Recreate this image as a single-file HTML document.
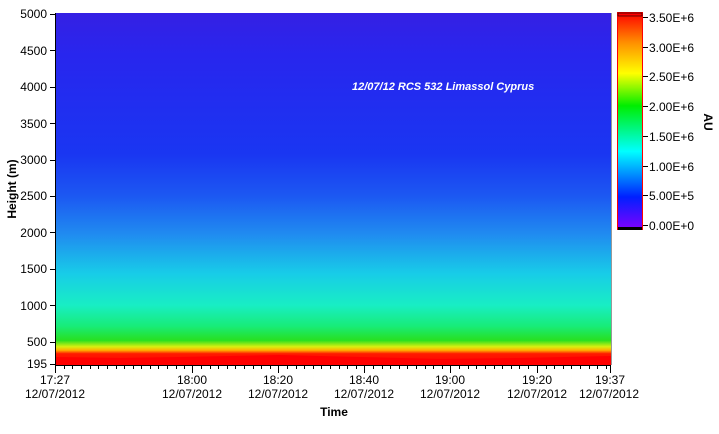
<!DOCTYPE html>
<html><head><style>
body{margin:0;background:#fff;width:719px;height:429px;overflow:hidden;font-family:"Liberation Sans",sans-serif;}
</style></head><body>
<svg width="719" height="429" xmlns="http://www.w3.org/2000/svg" font-family="Liberation Sans, sans-serif">
<defs>
<linearGradient id="pg" x1="0" y1="13" x2="0" y2="365" gradientUnits="userSpaceOnUse">
<stop offset="0" stop-color="#3520e4"/>
<stop offset="0.12" stop-color="#2826ee"/>
<stop offset="0.40" stop-color="#1a36f2"/>
<stop offset="0.52" stop-color="#1c58f2"/>
<stop offset="0.63" stop-color="#208cf0"/>
<stop offset="0.74" stop-color="#18cce8"/>
<stop offset="0.83" stop-color="#18eec4"/>
<stop offset="0.89" stop-color="#18ec78"/>
<stop offset="0.93" stop-color="#28e020"/>
<stop offset="0.948" stop-color="#d8f010"/>
<stop offset="0.958" stop-color="#ffb000"/>
<stop offset="0.968" stop-color="#ff1a00"/>
<stop offset="1" stop-color="#ff0000"/>
</linearGradient>
<linearGradient id="cb" x1="0" y1="0" x2="0" y2="1">
<stop offset="0" stop-color="#ff0000"/>
<stop offset="0.14" stop-color="#ff9000"/>
<stop offset="0.28" stop-color="#ffff00"/>
<stop offset="0.43" stop-color="#00ee00"/>
<stop offset="0.64" stop-color="#00ffff"/>
<stop offset="0.85" stop-color="#0020ff"/>
<stop offset="1" stop-color="#8000ff"/>
</linearGradient>
</defs>
<rect x="55" y="13" width="556" height="352" fill="url(#pg)"/>
<path d="M55,357 L120,358 L180,357 L280,355 L360,357 L440,359 L520,358 L611,356 L611,365 L55,365Z" fill="#ff0000"/>
<line x1="55.5" y1="13" x2="55.5" y2="366" stroke="#000"/>
<line x1="55" y1="365.5" x2="611" y2="365.5" stroke="#000"/>
<line x1="611.5" y1="13" x2="611.5" y2="365" stroke="#999"/>
<g font-size="12" fill="#000" text-anchor="end">
<text x="47" y="18">5000</text><text x="47" y="55">4500</text><text x="47" y="91">4000</text>
<text x="47" y="128">3500</text><text x="47" y="164">3000</text><text x="47" y="200">2500</text>
<text x="47" y="237">2000</text><text x="47" y="273">1500</text><text x="47" y="310">1000</text>
<text x="47" y="346">500</text><text x="47" y="368">195</text>
</g>
<g stroke="#000">
<line x1="50" y1="14.5" x2="55" y2="14.5"/><line x1="50" y1="50.5" x2="55" y2="50.5"/><line x1="50" y1="87.5" x2="55" y2="87.5"/>
<line x1="50" y1="123.5" x2="55" y2="123.5"/><line x1="50" y1="160.5" x2="55" y2="160.5"/><line x1="50" y1="196.5" x2="55" y2="196.5"/>
<line x1="50" y1="232.5" x2="55" y2="232.5"/><line x1="50" y1="269.5" x2="55" y2="269.5"/><line x1="50" y1="305.5" x2="55" y2="305.5"/>
<line x1="50" y1="342.5" x2="55" y2="342.5"/><line x1="50" y1="364.5" x2="55" y2="364.5"/>
</g>
<g stroke="#000">
<line x1="55.5" y1="366" x2="55.5" y2="373"/><line x1="192.5" y1="366" x2="192.5" y2="373"/>
<line x1="278.5" y1="366" x2="278.5" y2="373"/><line x1="364.5" y1="366" x2="364.5" y2="373"/>
<line x1="450.5" y1="366" x2="450.5" y2="373"/><line x1="537.5" y1="366" x2="537.5" y2="373"/>
<line x1="610.5" y1="366" x2="610.5" y2="373"/>
</g>
<g stroke="#000" stroke-width="1">
<path d="M64.5,366v3M72.5,366v3M81.5,366v3M90.5,366v3M98.5,366v3M107.5,366v3M116.5,366v3M124.5,366v3M133.5,366v3M141.5,366v3M150.5,366v3M158.5,366v3M167.5,366v3M176.5,366v3M184.5,366v3M201.5,366v3M210.5,366v3M218.5,366v3M227.5,366v3M235.5,366v3M244.5,366v3M253.5,366v3M261.5,366v3M270.5,366v3M287.5,366v3M296.5,366v3M304.5,366v3M313.5,366v3M321.5,366v3M330.5,366v3M339.5,366v3M347.5,366v3M356.5,366v3M373.5,366v3M382.5,366v3M390.5,366v3M399.5,366v3M407.5,366v3M416.5,366v3M425.5,366v3M433.5,366v3M442.5,366v3M459.5,366v3M468.5,366v3M476.5,366v3M485.5,366v3M494.5,366v3M502.5,366v3M511.5,366v3M519.5,366v3M528.5,366v3M546.5,366v3M554.5,366v3M563.5,366v3M571.5,366v3M580.5,366v3M589.5,366v3M597.5,366v3M606.5,366v3"/>
</g>
<g font-size="12" fill="#000" text-anchor="middle">
<text x="55" y="384">17:27</text><text x="55" y="398">12/07/2012</text>
<text x="192" y="384">18:00</text><text x="192" y="398">12/07/2012</text>
<text x="278" y="384">18:20</text><text x="278" y="398">12/07/2012</text>
<text x="364" y="384">18:40</text><text x="364" y="398">12/07/2012</text>
<text x="450" y="384">19:00</text><text x="450" y="398">12/07/2012</text>
<text x="537" y="384">19:20</text><text x="537" y="398">12/07/2012</text>
<text x="610" y="384">19:37</text><text x="609" y="398">12/07/2012</text>
</g>
<text x="334" y="416" font-size="12" font-weight="bold" text-anchor="middle">Time</text>
<text transform="translate(16,189) rotate(-90)" font-size="12" font-weight="bold" text-anchor="middle">Height (m)</text>
<text x="352" y="90" font-size="11" font-style="italic" font-weight="bold" fill="#fff">12/07/12 RCS 532 Limassol Cyprus</text>
<rect x="617.5" y="12.5" width="25" height="217" fill="url(#cb)" stroke="#f00"/>
<rect x="618" y="13" width="24" height="3" fill="#f00" stroke="#000" stroke-width="0.6"/>
<rect x="618" y="227" width="24" height="3" fill="#000"/>
<g stroke="#000"><path d="M643,17.5h5M643,47.5h5M643,76.5h5M643,106.5h5M643,136.5h5M643,166.5h5M643,195.5h5M643,225.5h5"/></g>
<g font-size="12" fill="#000">
<text x="649" y="22">3.50E+6</text><text x="649" y="52">3.00E+6</text><text x="649" y="81">2.50E+6</text>
<text x="649" y="111">2.00E+6</text><text x="649" y="141">1.50E+6</text><text x="649" y="171">1.00E+6</text>
<text x="649" y="200">5.00E+5</text><text x="649" y="230">0.00E+0</text>
</g>
<text transform="translate(704,122) rotate(90)" font-size="12" font-weight="bold" text-anchor="middle">AU</text>
</svg>
</body></html>
